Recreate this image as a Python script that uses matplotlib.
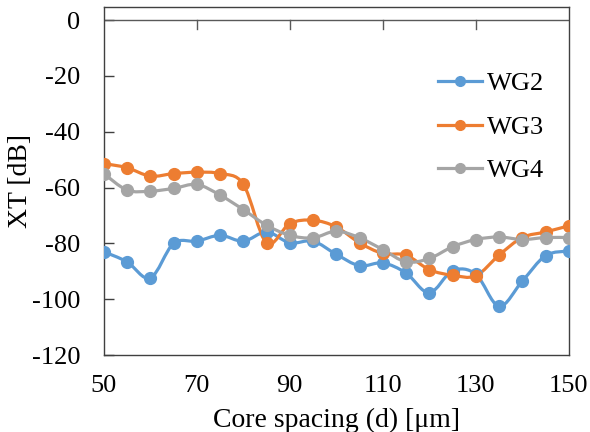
import matplotlib
matplotlib.use('Agg')
import numpy as np
import matplotlib.pyplot as plt
from matplotlib.path import Path
from matplotlib.patches import PathPatch
from matplotlib.lines import Line2D

spacing = [50, 55, 60, 65, 70, 75, 80, 85, 90, 95, 100,
           105, 110, 115, 120, 125, 130, 135, 140, 145, 150]
wg2 = [-83.0, -86.6, -92.4, -80.0, -79.2, -77.1, -79.2, -75.9, -79.8, -79.2, -83.9,
       -88.0, -87.0, -90.6, -97.7, -89.8, -91.0, -102.5, -93.5, -84.4, -82.7]
wg3 = [-51.4, -52.9, -55.9, -55.0, -54.5, -55.0, -58.8, -79.8, -72.9, -71.7, -74.1,
       -79.8, -83.6, -84.2, -89.4, -91.4, -91.6, -84.2, -77.9, -75.9, -73.7]
wg4 = [-55.0, -60.9, -61.3, -60.3, -58.9, -62.7, -67.9, -73.5, -77.1, -78.0, -75.6,
       -78.0, -82.2, -86.6, -85.4, -81.2, -78.6, -77.7, -78.6, -77.9, -77.9]
names = ['WG2', 'WG3', 'WG4']
colors = ['#5B9BD5', '#ED7D31', '#A5A5A5']

plt.rcParams['font.family'] = ['Liberation Serif', 'DejaVu Serif']
plt.rcParams['axes.unicode_minus'] = False


def smooth_path(xs, ys, t=1/6):
    # excel-ish smoothed line: cubic bezier through every point
    p = np.column_stack([xs, ys]).astype(float)
    verts = [p[0]]
    codes = [Path.MOVETO]
    n = len(p)
    for i in range(n - 1):
        p0 = p[i - 1] if i > 0 else p[i]
        p3 = p[i + 2] if i + 2 < n else p[i + 1]
        c1 = p[i] + (p[i + 1] - p0) * t
        c2 = p[i + 1] - (p3 - p[i]) * t
        verts += [c1, c2, p[i + 1]]
        codes += [Path.CURVE4] * 3
    return Path(verts, codes)


fig = plt.figure(figsize=(5.9, 4.32), dpi=100)
ax = fig.add_axes([0.176, 0.178, 0.788, 0.806])

for ys, c in zip([wg2, wg3, wg4], colors):
    ax.add_patch(PathPatch(smooth_path(spacing, ys), fill=False,
                           edgecolor=c, lw=2.3, capstyle='round', joinstyle='round'))
    ax.plot(spacing, ys, 'o', color=c, ms=8.5, mec=c, zorder=3)

ax.set_xlim(50, 150)
ax.set_ylim(-120, 4.7)
ax.set_xticks(range(50, 151, 20))
ax.set_yticks(range(-120, 1, 20))
ax.tick_params(axis='x', length=0, pad=14, labelsize=19)
ax.tick_params(axis='y', direction='in', length=7, width=1, pad=17, labelsize=19,
               color='#404040')
for s in ax.spines.values():
    s.set_color('#404040')
    s.set_linewidth(1)

# horizontal axis crossing at 0 with downward ticks
ax.axhline(0, color='#595959', lw=1)
for xt in range(70, 131, 20):
    ax.plot([xt, xt], [0, -3.2], color='#595959', lw=1)

ax.set_xlabel('Core spacing (d) [μm]', fontsize=20, labelpad=8)
ax.set_ylabel('XT [dB]', fontsize=20)
ax.yaxis.set_label_coords(-0.153, 0.5)

handles = [Line2D([], [], color=c, lw=2.3, marker='o', ms=7) for c in colors]
ax.legend(handles, names, loc='upper left', bbox_to_anchor=(0.718, 0.813),
          frameon=False, fontsize=19, handlelength=1.67, handletextpad=0.2,
          labelspacing=0.75, borderpad=0, borderaxespad=0)

plt.savefig('out.png', dpi=100)
